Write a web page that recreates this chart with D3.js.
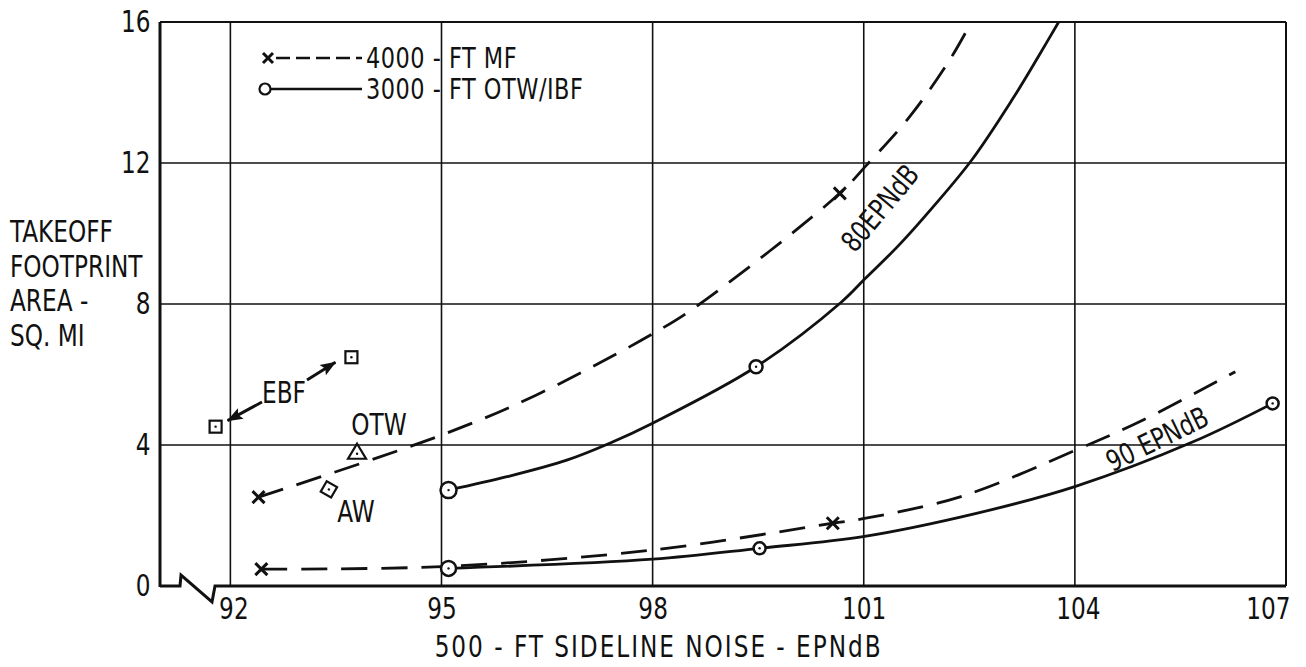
<!DOCTYPE html>
<html>
<head>
<meta charset="utf-8">
<script src="https://cdn.jsdelivr.net/npm/d3@7"></script>
<style>
  html, body { margin: 0; padding: 0; background: #fff; }
  svg { display: block; }
  text { font-family: "DejaVu Sans Condensed", "DejaVu Sans", sans-serif; font-stretch: condensed; fill: #111; }
</style>
</head>
<body>
<svg id="chart" width="1306" height="667"></svg>
<script>
// ---------- DATA ----------
const xTicks = [92, 95, 98, 101, 104, 107];
const yTicks = [0, 4, 8, 12, 16];

// 80 EPNdB, 4000-FT MF (dashed)
const mf80X = [92.4, 95.0, 96.35, 98.05, 98.67, 100.66, 101.04, 101.65, 102.22, 102.53];
const mf80Y = [2.52, 4.28, 5.42, 7.21, 8.0, 11.14, 11.94, 13.31, 14.92, 16.0];
const mf80MarkX = [92.4, 100.66];
const mf80MarkY = [2.52, 11.14];

// 80 EPNdB, 3000-FT OTW/IBF (solid)
const otw80X = [95.1, 95.93, 96.78, 97.39, 98.0, 99.47, 100.68, 101.02, 101.5, 101.97, 102.54, 103.11, 103.49, 103.77];
const otw80Y = [2.72, 3.10, 3.57, 4.05, 4.62, 6.22, 8.05, 8.72, 9.67, 10.72, 12.1, 13.8, 15.05, 16.0];
const otw80MarkX = [95.1, 99.47];
const otw80MarkY = [2.72, 6.22];

// 90 EPNdB, 4000-FT MF (dashed)
const mf90X = [92.44, 95.0, 98.0, 100.56, 100.99, 102.37, 104.02, 104.97, 106.28];
const mf90Y = [0.48, 0.55, 1.02, 1.78, 1.91, 2.53, 3.86, 4.71, 6.08];
const mf90MarkX = [92.44, 100.56];
const mf90MarkY = [0.48, 1.78];

// 90 EPNdB, 3000-FT OTW/IBF (solid)
const otw90X = [95.1, 98.0, 99.52, 100.99, 102.6, 104.0, 105.68, 106.81];
const otw90Y = [0.5, 0.76, 1.07, 1.40, 2.06, 2.82, 4.09, 5.18];
const otw90MarkX = [95.1, 99.52, 106.81];
const otw90MarkY = [0.5, 1.07, 5.18];

// Other concepts
const ebfX = [91.79, 93.72];
const ebfY = [4.52, 6.49];
const otwPtX = [93.8];
const otwPtY = [3.78];
const awPtX = [93.4];
const awPtY = [2.74];

const legendLabels = ["4000 - FT MF", "3000 - FT OTW/IBF"];
const xTitle = "500 - FT SIDELINE NOISE - EPNdB";
const yTitle = ["TAKEOFF", "FOOTPRINT", "AREA -", "SQ. MI"];

// ---------- SCALES ----------
const svg = d3.select("#chart");
const x = d3.scaleLinear().domain([91, 107]).range([160, 1286]);
const y = d3.scaleLinear().domain([0, 16]).range([586, 22]);
const ink = "#111";
const dash = "26,14";
const SX = 0.86; // horizontal condensing of text

const zip = (xs, ys) => xs.map((v, i) => [v, ys[i]]);
const line = d3.line().x(d => x(d[0])).y(d => y(d[1])).curve(d3.curveCatmullRom.alpha(0.5));

function addText(parent, px, py, str, size, anchor, rot, ls) {
  const g = parent.append("g").attr("transform", `translate(${px},${py})` + (rot ? ` rotate(${rot})` : ""));
  const t = g.append("text").attr("transform", `scale(${SX},1)`).attr("font-size", size)
    .attr("text-anchor", anchor || "start").text(str);
  if (ls) t.attr("letter-spacing", ls);
  return t;
}

// ---------- GRID ----------
const grid = svg.append("g").attr("stroke", ink).attr("stroke-width", 1.6);
[4, 8, 12].forEach(v => grid.append("line")
  .attr("x1", x(91)).attr("x2", x(107)).attr("y1", y(v)).attr("y2", y(v)));
[92, 95, 98, 101, 104].forEach(v => grid.append("line")
  .attr("x1", x(v)).attr("x2", x(v)).attr("y1", y(0)).attr("y2", y(16)));

// frame: top and right
svg.append("line").attr("x1", x(91)).attr("x2", x(107)).attr("y1", y(16)).attr("y2", y(16))
  .attr("stroke", ink).attr("stroke-width", 2);
svg.append("line").attr("x1", x(107)).attr("x2", x(107)).attr("y1", y(16)).attr("y2", y(0))
  .attr("stroke", ink).attr("stroke-width", 2);
// left axis
svg.append("line").attr("x1", x(91)).attr("x2", x(91)).attr("y1", y(16)).attr("y2", y(0) + 1)
  .attr("stroke", ink).attr("stroke-width", 3);
// bottom axis with break
const bx0 = x(91), by = y(0);
svg.append("path")
  .attr("d", `M${bx0},${by} L${bx0 + 20},${by} L${bx0 + 21},${by - 11} L${bx0 + 52},${by + 16} L${bx0 + 55},${by} L${x(107)},${by}`)
  .attr("fill", "none").attr("stroke", ink).attr("stroke-width", 3).attr("stroke-linejoin", "miter");

// ---------- AXES LABELS ----------
const yAxis = d3.axisLeft(y).tickValues(yTicks).tickSize(0).tickPadding(11).tickFormat(d3.format("d"));
const gy = svg.append("g").attr("transform", `translate(${x(91)},0)`).call(yAxis);
gy.select(".domain").remove();
gy.selectAll(".tick text").attr("font-size", 30).attr("fill", ink).attr("font-family", null)
  .attr("transform", `scale(${SX},1)`);

const xAxis = d3.axisBottom(x).tickValues(xTicks).tickSize(0).tickPadding(12).tickFormat(d3.format("d"));
const gx = svg.append("g").attr("transform", `translate(0,${y(0)})`).call(xAxis);
gx.select(".domain").remove();
gx.selectAll(".tick text").attr("font-size", 30).attr("fill", ink).attr("font-family", null)
  .attr("transform", `scale(${SX},1)`);
gx.selectAll(".tick text").filter(d => d === 107).attr("text-anchor", "end").attr("x", 4 / SX);
gx.selectAll(".tick text").filter(d => d === 92).attr("x", 3 / SX);
gx.selectAll(".tick text").filter(d => d === 104).attr("x", 3 / SX);

addText(svg, (x(95) + x(101)) / 2 + 6, 657, xTitle, 30, "middle", 0, 2.3);

yTitle.forEach((d, i) => addText(svg, 10, 242 + i * 34.5, d, 30, "start"));

// ---------- CURVES ----------
const curves = [
  { data: zip(mf80X, mf80Y), dashed: true },
  { data: zip(otw80X, otw80Y), dashed: false },
  { data: zip(mf90X, mf90Y), dashed: true },
  { data: zip(otw90X, otw90Y), dashed: false }
];
svg.append("g").selectAll("path").data(curves).join("path")
  .attr("d", d => line(d.data))
  .attr("fill", "none").attr("stroke", ink).attr("stroke-width", 2.8)
  .attr("stroke-dasharray", d => d.dashed ? dash : null);

// ---------- MARKERS ----------
function xMark(g, cx, cy, s) {
  g.append("path").attr("d", `M${cx - s},${cy - s} L${cx + s},${cy + s} M${cx - s},${cy + s} L${cx + s},${cy - s}`)
    .attr("stroke", ink).attr("stroke-width", 3).attr("fill", "none");
}
function cMark(g, cx, cy, r) {
  g.append("circle").attr("cx", cx).attr("cy", cy).attr("r", r)
    .attr("fill", "#fff").attr("stroke", ink).attr("stroke-width", 2.5);
  g.append("circle").attr("cx", cx).attr("cy", cy).attr("r", 1.2).attr("fill", ink);
}
const mk = svg.append("g");
zip(mf80MarkX, mf80MarkY).forEach(d => xMark(mk, x(d[0]), y(d[1]), 6));
zip(mf90MarkX, mf90MarkY).forEach(d => xMark(mk, x(d[0]), y(d[1]), 6));
zip(otw80MarkX, otw80MarkY).forEach((d, i) => cMark(mk, x(d[0]), y(d[1]), i === 0 ? 8 : 6.5));
zip(otw90MarkX, otw90MarkY).forEach((d, i) => cMark(mk, x(d[0]), y(d[1]), i === 0 ? 7.5 : 6));

// EBF squares
zip(ebfX, ebfY).forEach(d => {
  mk.append("rect").attr("x", x(d[0]) - 6).attr("y", y(d[1]) - 6).attr("width", 12).attr("height", 12)
    .attr("fill", "#fff").attr("stroke", ink).attr("stroke-width", 2.2);
  mk.append("circle").attr("cx", x(d[0])).attr("cy", y(d[1])).attr("r", 1.2).attr("fill", ink);
});
// OTW triangle
zip(otwPtX, otwPtY).forEach(d => {
  const cx = x(d[0]), cy = y(d[1]);
  mk.append("path").attr("d", `M${cx},${cy - 9} L${cx + 9},${cy + 6} L${cx - 9},${cy + 6} Z`)
    .attr("fill", "#fff").attr("stroke", ink).attr("stroke-width", 2.2);
  mk.append("circle").attr("cx", cx).attr("cy", cy + 1).attr("r", 1.2).attr("fill", ink);
});
// AW diamond (tilted square)
zip(awPtX, awPtY).forEach(d => {
  const cx = x(d[0]), cy = y(d[1]);
  mk.append("rect").attr("x", -6).attr("y", -6).attr("width", 12).attr("height", 12)
    .attr("transform", `translate(${cx},${cy}) rotate(30)`)
    .attr("fill", "#fff").attr("stroke", ink).attr("stroke-width", 2.2);
  mk.append("circle").attr("cx", cx).attr("cy", cy).attr("r", 1.2).attr("fill", ink);
});

// ---------- ANNOTATIONS ----------
svg.append("defs").append("marker").attr("id", "ah")
  .attr("viewBox", "0 0 16 12").attr("refX", 15).attr("refY", 6)
  .attr("markerWidth", 17).attr("markerHeight", 12).attr("markerUnits", "userSpaceOnUse")
  .attr("orient", "auto")
  .append("path").attr("d", "M0,0 L16,6 L0,12 L3,6 Z").attr("fill", ink);

const ebfLabelX = 284, ebfLabelY = 403;
addText(svg, ebfLabelX, ebfLabelY, "EBF", 30, "middle");
svg.append("line").attr("x1", ebfLabelX - 22).attr("y1", ebfLabelY - 1).attr("x2", x(ebfX[0]) + 12).attr("y2", y(ebfY[0]) - 6)
  .attr("stroke", ink).attr("stroke-width", 3).attr("marker-end", "url(#ah)");
svg.append("line").attr("x1", ebfLabelX + 23).attr("y1", ebfLabelY - 23).attr("x2", x(ebfX[1]) - 16).attr("y2", y(ebfY[1]) + 5)
  .attr("stroke", ink).attr("stroke-width", 3).attr("marker-end", "url(#ah)");

addText(svg, x(otwPtX[0]) + 22, y(otwPtY[0]) - 18, "OTW", 30, "middle");
addText(svg, x(awPtX[0]) + 27, y(awPtY[0]) + 33, "AW", 30, "middle");

// curve labels
addText(svg, 880, 208, "80EPNdB", 29, "middle", -50).attr("dy", "0.35em");
addText(svg, 1157, 439, "90 EPNdB", 29, "middle", -26).attr("dy", "0.35em");

// ---------- LEGEND ----------
const lg = svg.append("g");
lg.append("line").attr("x1", 276).attr("x2", 362).attr("y1", 58).attr("y2", 58)
  .attr("stroke", ink).attr("stroke-width", 2.4).attr("stroke-dasharray", "14,6");
xMark(lg, 268, 58, 5);
lg.append("line").attr("x1", 270).attr("x2", 362).attr("y1", 89).attr("y2", 89)
  .attr("stroke", ink).attr("stroke-width", 2.4);
lg.append("circle").attr("cx", 265).attr("cy", 89).attr("r", 5.5).attr("fill", "#fff")
  .attr("stroke", ink).attr("stroke-width", 2.2);
legendLabels.forEach((d, i) => addText(lg, 366, 68 + i * 31, d, 29, "start", 0, 0.6));
</script>
</body>
</html>
